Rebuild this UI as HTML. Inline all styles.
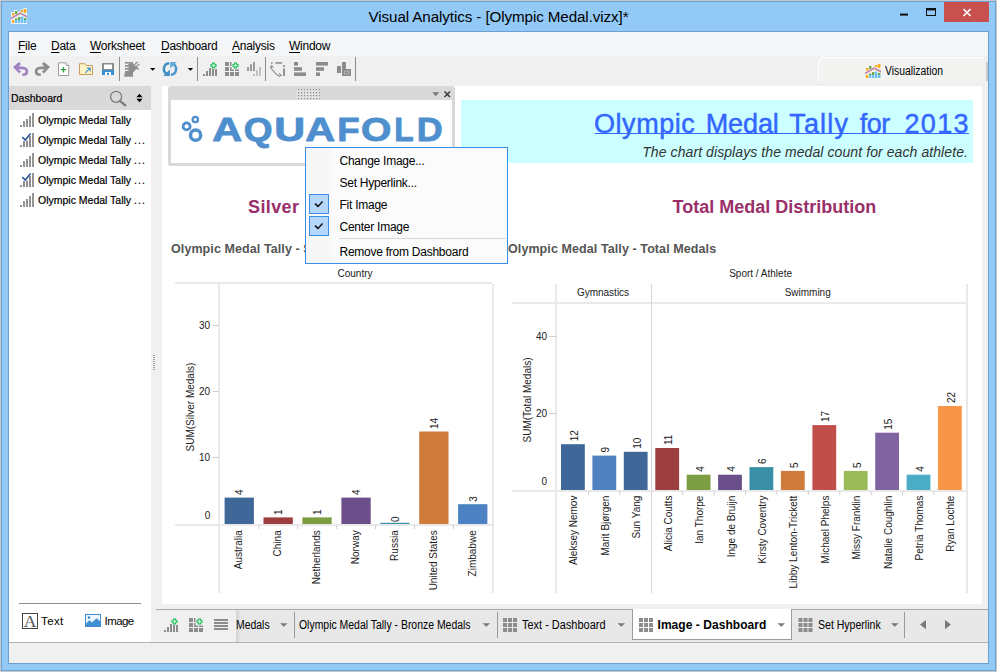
<!DOCTYPE html>
<html>
<head>
<meta charset="utf-8">
<title>Visual Analytics</title>
<style>
*{box-sizing:border-box;margin:0;padding:0}
html,body{width:997px;height:672px;overflow:hidden}
body{position:relative;background:#92c9f7;font-family:"Liberation Sans",sans-serif;font-size:12px;color:#000}
.abs{position:absolute}
#frame{left:0;top:0;width:997px;height:672px;border:1px solid #c6c9cc}
#frame2{left:1px;top:1px;width:995px;height:670px;border:1px solid #6c9fd2}
#cborder{left:8px;top:31px;width:981px;height:633px;background:#6c9fd2}
#title{left:0;top:8px;width:997px;text-align:center;font-size:15.2px;color:#000;letter-spacing:-0.1px}
#client{left:9px;top:32px;width:979px;height:631px;background:#f0f0f0}
#menubar{left:9px;top:32px;width:979px;height:24px;background:#f5f6f7}
.mi{top:39px;font-size:12px;line-height:14px;white-space:nowrap;letter-spacing:-0.25px}
.mi u{text-decoration:underline;text-underline-offset:1.5px}
#closebtn{left:944px;top:2px;width:45px;height:20px;background:#c8504f}
/* sidebar */
#sbhead{left:9px;top:86px;width:142px;height:24px;background:#d9d9d9}
.ui{font-size:11.6px;line-height:14px;white-space:nowrap;transform:scaleX(0.905);transform-origin:0 0;-webkit-text-stroke:0.22px #000}
#sblist{left:9px;top:110px;width:142px;height:532px;background:#fff}
.sbt{font-size:12px;left:38px;white-space:nowrap;line-height:14px;letter-spacing:-0.25px}
.sect{font-size:18px;font-weight:700;line-height:22px;color:#99306a;white-space:nowrap}
.sht{font-size:12.5px;font-weight:700;line-height:15px;color:#555;letter-spacing:0.09px;white-space:nowrap}
#main{left:162px;top:86px;width:820px;height:517.5px;background:#fff}
.cm{left:339.5px;font-size:12px;line-height:14px;letter-spacing:-0.25px;white-space:nowrap}
.tab{top:618.4px;font-size:12px;line-height:14px;white-space:nowrap;transform:scaleX(0.87);transform-origin:0 0}
</style>
</head>
<body>
<div class="abs" id="frame"></div>
<div class="abs" id="frame2"></div>
<div class="abs" id="cborder"></div>
<div class="abs" id="title">Visual Analytics - [Olympic Medal.vizx]*</div>
<div class="abs" id="closebtn"></div>
<div class="abs" id="client"></div>
<div class="abs" id="menubar"></div>
<div class="abs mi" style="left:18px"><u>F</u>ile</div>
<div class="abs mi" style="left:51px"><u>D</u>ata</div>
<div class="abs mi" style="left:90px"><u>W</u>orksheet</div>
<div class="abs mi" style="left:161px"><u>D</u>ashboard</div>
<div class="abs mi" style="left:232px"><u>A</u>nalysis</div>
<div class="abs mi" style="left:289px"><u>W</u>indow</div>

<div class="abs" id="sbhead"></div>
<div class="abs" id="sblist"></div>
<div class="abs" id="main"></div>

<!-- title bar icon + controls -->
<svg class="abs" style="left:0;top:0" width="997" height="31" viewBox="0 0 997 31">
 <path d="M11 12 H14 V10 H17.6 V11.6 H20.4 V9.4 H23.4 V8 H27 V24 H11 Z" fill="#fff" opacity="0.8"/>
 <rect x="12" y="13" width="2.4" height="2.4" fill="#fbaa19"/><rect x="12" y="20" width="2.4" height="3" fill="#fbaa19"/>
 <rect x="15" y="11" width="2.4" height="3" fill="#6aa84f"/><rect x="15" y="18.5" width="2.4" height="1.5" fill="#6aa84f"/><rect x="15" y="20" width="2.4" height="3" fill="#6ec1f7"/>
 <rect x="18" y="17" width="2.4" height="3" fill="#6aa84f"/><rect x="18" y="20" width="2.4" height="3" fill="#6ec1f7"/>
 <rect x="21" y="10" width="2.4" height="2" fill="#fbaa19"/><rect x="21" y="16.5" width="2.4" height="6.5" fill="#6ec1f7"/>
 <rect x="24" y="9" width="2.4" height="4" fill="#fbaa19"/><rect x="24" y="18" width="2.4" height="2" fill="#6aa84f"/><rect x="24" y="20" width="2.4" height="3" fill="#6ec1f7"/>
 <path d="M11 18.4 L20.3 13.2 L27 16.8" fill="none" stroke="#f4b09a" stroke-width="2.1"/>
 <path d="M11 18.4 L20.3 13.2 L27 16.8" fill="none" stroke="#9278c0" stroke-width="0.9"/>
 <rect x="900" y="13.6" width="8" height="2" fill="#111"/>
 <rect x="926.5" y="8.5" width="9" height="7" fill="none" stroke="#111" stroke-width="1"/><rect x="926" y="8" width="10" height="2.4" fill="#111"/>
 <path d="M963.5 9 L970.5 16 M970.5 9 L963.5 16" stroke="#fff" stroke-width="1.7" fill="none"/>
</svg>
<!-- toolbar -->
<svg class="abs" style="left:0;top:56px" width="997" height="30" viewBox="0 56 997 30">
 <g fill="#8c8c8c">
  <rect x="119" y="57" width="1" height="24"/><rect x="197" y="57" width="1" height="24"/><rect x="265" y="57" width="1" height="24"/><rect x="355" y="57" width="1" height="24"/>
 </g>
 <!-- undo -->
 <path d="M13 67 L19 62 L21 64 L18.5 66.5 L22 66.5 Q28.3 67 28.3 71.5 Q28.3 76 22.5 76 L22 73.6 Q25.6 73.6 25.6 71.3 Q25.6 69.2 22 69.2 L18.6 69.2 L21 71.6 L19.2 73.4 Z" fill="#a281c2"/>
 <!-- redo -->
 <path d="M50 67 L44 62 L42 64 L44.5 66.5 L41 66.5 Q34.7 67 34.7 71.5 Q34.7 76 40.5 76 L41 73.6 Q37.4 73.6 37.4 71.3 Q37.4 69.2 41 69.2 L44.4 69.2 L42 71.6 L43.8 73.4 Z" fill="#8c8c8c"/>
 <!-- new doc -->
 <path d="M58.5 62.8 H66 L68.7 65.5 V75.5 H58.5 Z" fill="#fff" stroke="#9a9a9a" stroke-width="1"/>
 <path d="M66 62.8 V65.5 H68.7" fill="#e4e4e4" stroke="#9a9a9a" stroke-width="0.8"/>
 <path d="M63.5 67 V72.4 M60.8 69.7 H66.2" stroke="#2f9e3e" stroke-width="1.3"/>
 <!-- folder -->
 <path d="M79.5 63.7 H85 L86.5 65.5 H92.5 V74.5 H79.5 Z" fill="#fdf3c4" stroke="#c79d5f" stroke-width="1"/>
 <path d="M85.3 72.8 L89.8 68.3 M86.8 68 H90.2 V71.4" stroke="#3a8fd0" stroke-width="1.1" fill="none"/>
 <!-- save -->
 <rect x="102" y="63" width="12" height="12" fill="#8c8c8c"/><rect x="104" y="64.5" width="8" height="4.5" fill="#fff"/>
 <rect x="102" y="70" width="12" height="5" fill="#3a8fd0"/><rect x="105" y="72" width="6" height="3" fill="#fff"/><rect x="107" y="72.8" width="2" height="2.2" fill="#3a8fd0"/>
 <!-- plug -->
 <path d="M125 62 H133 V63.6 L134.6 65.2 L138 67.4 L139.2 69.9 L136.4 69 L133 72.6 V76.8 H124 L125 72 Z" fill="#8e8e8e"/>
 <path d="M134.2 64.7 L137.7 62 M135.9 66.5 L139.8 63.9" stroke="#8e8e8e" stroke-width="1.1" fill="none"/>
 <path d="M124.8 64.3 H128.3 M124.8 67.3 H128.6 M124.8 70.4 H128.6" stroke="#f0f0f0" stroke-width="1.3"/>
 <path d="M126.5 62.8 V63.6 M128.5 62.8 V63.6 M130.5 62.8 V63.6" stroke="#f0f0f0" stroke-width="0.7"/>
 <path d="M150 68 H155.4 L152.7 70.8 Z" fill="#000"/>
 <!-- refresh -->
 <path d="M169.2 63.2 A5.8 5.8 0 0 0 166.8 74" stroke="#3f8fc6" stroke-width="2.5" fill="none"/>
 <path d="M163.2 75.9 H169.9 V69.4 Z" fill="#3f8fc6"/>
 <path d="M170.8 74.8 A5.8 5.8 0 0 0 173.2 64" stroke="#4a97cc" stroke-width="2.5" fill="none"/>
 <path d="M176.8 62.1 H170.2 V68.6 Z" fill="#62a8d8"/>
 <path d="M187.8 68 H193.2 L190.5 70.8 Z" fill="#000"/>
 <!-- bars + -->
 <g fill="#8c8c8c"><rect x="203" y="74" width="2" height="2"/><rect x="206" y="71" width="2" height="5"/><rect x="209" y="68" width="2" height="8"/><rect x="212" y="69" width="2" height="7"/><rect x="215" y="69" width="2" height="7"/></g>
 <path d="M213.5 62.5 V68.5 M210.5 65.5 H216.5" stroke="#18b650" stroke-width="3.2"/><path d="M213.5 63.5 V67.5 M211.5 65.5 H215.5" stroke="#bdf7cd" stroke-width="1.3"/>
 <!-- grid + -->
 <g fill="#8c8c8c"><rect x="225" y="62" width="4" height="4"/><rect x="230" y="62" width="4" height="4"/><rect x="225" y="67" width="4" height="4"/><rect x="230" y="67" width="4" height="4"/><rect x="235" y="67" width="4" height="4"/><rect x="225" y="72" width="4" height="4"/><rect x="230" y="72" width="4" height="4"/><rect x="235" y="72" width="4" height="4"/></g>
 <rect x="231.5" y="61.5" width="8" height="8" fill="#f0f0f0"/>
 <path d="M235.5 62.5 V68.5 M232.5 65.5 H238.5" stroke="#18b650" stroke-width="3.2"/><path d="M235.5 63.5 V67.5 M233.5 65.5 H237.5" stroke="#bdf7cd" stroke-width="1.3"/>
 <!-- light bars -->
 <g fill="#9a9a9a"><rect x="247" y="67" width="2" height="4"/><rect x="250" y="64.3" width="2" height="6.7"/><rect x="253" y="62" width="2" height="9"/></g>
 <g fill="#c2c2c2"><rect x="253" y="74" width="2" height="2"/><rect x="256" y="70" width="2" height="6"/><rect x="259" y="67" width="2" height="9"/></g>
 <!-- swap -->
 <g fill="#8c8c8c"><rect x="271" y="62.2" width="1.6" height="1.5"/><rect x="275.3" y="62.2" width="6.8" height="1.5"/><rect x="283.1" y="65.2" width="1.9" height="1.8"/><rect x="283.1" y="68.6" width="1.9" height="7.4"/></g>
 <path d="M271.7 66 V69.3 L277.3 75.2 H280.5" stroke="#8c8c8c" stroke-width="1.1" fill="none"/>
 <path d="M270 68 L271.7 65.3 L273.6 67.6" stroke="#8c8c8c" stroke-width="1" fill="none"/>
 <path d="M279 73 L281.6 75.4 L278.6 76.6" stroke="#8c8c8c" stroke-width="1" fill="none"/>
 <!-- sort asc / desc -->
 <g fill="#8c8c8c"><rect x="294" y="62" width="4" height="3.6"/><rect x="294" y="67.2" width="8" height="3.6"/><rect x="294" y="72.4" width="12" height="3.6"/>
 <rect x="316" y="62" width="12" height="3.6"/><rect x="316" y="67.2" width="8" height="3.6"/><rect x="316" y="72.4" width="4" height="3.6"/>
 <rect x="337" y="66" width="4" height="7"/><rect x="342" y="62" width="4" height="14"/><rect x="342" y="69" width="9" height="7"/></g>
 <rect x="344.6" y="71.2" width="4.3" height="2.7" fill="none" stroke="#bdbdbd" stroke-width="0.8"/>
</svg>

<!-- sidebar -->
<div class="abs ui" style="left:11px;top:91px">Dashboard</div>
<svg class="abs" style="left:0;top:86px" width="160" height="130" viewBox="0 86 160 130">
 <circle cx="116.1" cy="96.8" r="5.5" fill="none" stroke="#7a7a7a" stroke-width="1.3"/>
 <path d="M120 100.8 L125.3 105.3" stroke="#7a7a7a" stroke-width="2.2" stroke-linecap="round"/>
 <path d="M136.4 97.3 L139.5 93.8 L142.6 97.3 Z M136.4 98.8 L139.5 102.3 L142.6 98.8 Z" fill="#000"/>
 <g id="bi" fill="#949494"><rect x="20" y="125" width="2" height="2"/><rect x="23" y="121" width="2" height="6"/><rect x="26" y="119" width="2" height="8"/><rect x="29" y="116" width="2" height="11"/><rect x="32" y="113" width="2" height="14"/></g>
 <use href="#bi" y="20"/><use href="#bi" y="40"/><use href="#bi" y="60"/><use href="#bi" y="80"/>
 <rect x="19" y="132" width="9" height="8.6" fill="#fff"/><rect x="28" y="132" width="3" height="4" fill="#fff"/>
 <path d="M22.3 137.2 L25.3 140 L30.6 133.6" stroke="#2b579a" stroke-width="1.6" fill="none"/>
 <rect x="23" y="141.6" width="2" height="5.4" fill="#8c8c8c"/><rect x="26" y="141" width="2" height="6" fill="#8c8c8c"/><rect x="29" y="137.5" width="2" height="9.5" fill="#8c8c8c"/>
 <rect x="19" y="172" width="9" height="8.6" fill="#fff"/><rect x="28" y="172" width="3" height="4" fill="#fff"/>
 <path d="M22.3 177.2 L25.3 180 L30.6 173.6" stroke="#2b579a" stroke-width="1.6" fill="none"/>
 <rect x="23" y="181.6" width="2" height="5.4" fill="#8c8c8c"/><rect x="26" y="181" width="2" height="6" fill="#8c8c8c"/><rect x="29" y="177.5" width="2" height="9.5" fill="#8c8c8c"/>
</svg>
<div class="abs ui" style="left:38px;top:113px">Olympic Medal Tally</div>
<div class="abs ui" style="left:38px;top:133px">Olympic Medal Tally <span style="letter-spacing:1.2px">...</span></div>
<div class="abs ui" style="left:38px;top:153px">Olympic Medal Tally <span style="letter-spacing:1.2px">...</span></div>
<div class="abs ui" style="left:38px;top:173px">Olympic Medal Tally <span style="letter-spacing:1.2px">...</span></div>
<div class="abs ui" style="left:38px;top:193px">Olympic Medal Tally <span style="letter-spacing:1.2px">...</span></div>

<!-- image panel -->
<div class="abs" style="left:168px;top:86px;width:287px;height:80px;background:#d9d9d9;border-radius:3px 3px 2px 2px"></div>
<div class="abs" style="left:171px;top:100px;width:281px;height:63px;background:#fff"></div>
<svg class="abs" style="left:168px;top:86px" width="287" height="80" viewBox="168 86 287 80">
 <defs><pattern id="grip" x="297" y="88" width="3" height="3" patternUnits="userSpaceOnUse"><rect x="0" y="0" width="1" height="1" fill="#fdfdfd"/><rect x="1" y="1" width="1" height="1" fill="#8a8a8a"/></pattern></defs>
 <rect x="297" y="88" width="24" height="12" fill="url(#grip)"/><rect x="297" y="88" width="24" height="1" fill="#d9d9d9"/>
 <path d="M432.3 92.3 H439.3 L435.8 96.2 Z" fill="#7a7a7a"/>
 <path d="M444.5 91.5 L450 97 M450 91.5 L444.5 97" stroke="#3a3a3a" stroke-width="1.5"/>
 <g fill="none" stroke="#4f8fcd" stroke-width="2.6">
  <circle cx="186.6" cy="126.4" r="3.5" stroke-width="2.8"/><circle cx="195.3" cy="119.5" r="2.7" stroke-width="2.3"/><circle cx="195.6" cy="135.2" r="5.1" stroke-width="3.5"/>
 </g>
 <g font-family="Liberation Sans" font-weight="700" font-size="33.58" fill="#4f8fcd" stroke="#4f8fcd" stroke-width="0.9" stroke-linejoin="round"><text transform="translate(212.32 140.95) scale(1.230 1)">A</text><text transform="translate(243.83 140.95) scale(1.102 1)">Q</text><text transform="translate(274.18 140.95) scale(1.273 1)">U</text><text transform="translate(305.22 140.95) scale(1.230 1)">A</text><text transform="translate(337.20 140.95) scale(1.092 1)">F</text><text transform="translate(360.95 140.95) scale(1.162 1)">O</text><text transform="translate(394.13 140.95) scale(0.946 1)">L</text><text transform="translate(416.75 140.95) scale(1.068 1)">D</text></g>
</svg>
<!-- header text -->
<div class="abs" style="left:461px;top:100px;width:512px;height:63px;background:#ccffff"></div>
<div class="abs" id="bigtitle" style="left:0;top:108px;width:997px;height:32px;font-size:27px;line-height:32px;color:#3366ff;white-space:nowrap;-webkit-text-stroke:0.45px #3366ff">
<span class="abs bw" style="left:594px;letter-spacing:0.56px">Olympic</span><span class="abs bw" style="left:705.7px;letter-spacing:-0.1px">Medal</span><span class="abs bw" style="left:789.2px;letter-spacing:1.2px">Tally</span><span class="abs bw" style="left:859.8px;letter-spacing:-0.5px">for</span><span class="abs bw" style="left:904.5px;letter-spacing:1.35px">2013</span></div>
<div class="abs" style="left:595px;top:132.8px;width:373.6px;height:1.7px;background:#3366ff"></div>
<div class="abs" id="subtitle" style="right:29px;top:144px;font-size:14px;line-height:16px;font-style:italic;color:#333;letter-spacing:0.084px;white-space:nowrap">The chart displays the medal count for each athlete.</div>
<div class="abs sect" id="sect1" style="left:248px;top:196px;letter-spacing:0.4px">Silver</div>
<div class="abs sect" id="sect2" style="left:672.5px;top:196px">Total Medal Distribution</div>
<div class="abs sht" id="sht1" style="left:171px;top:242px">Olympic Medal Tally - Silver Medals</div>
<div class="abs sht" id="sht2" style="left:508px;top:242px">Olympic Medal Tally - Total Medals</div>
<!--CHARTS-->
<svg class="abs" id="charts" style="left:162px;top:262px" width="820" height="340" viewBox="162 262 820 340" font-family="Liberation Sans" font-size="10" fill="#222">
<g stroke="#e9e9e9" stroke-width="2" fill="none">
<path d="M175 283 H492 M175 525 H494 M219 284 V593 M493 284 V593"/>
</g>
<g stroke="#cfcfcf" stroke-width="1" fill="none">
<path d="M212.5 325.5 H219 M212.5 391.5 H219 M212.5 457.5 H219"/>
<path d="M258.8 525 V529 M297.7 525 V529 M336.7 525 V529 M375.6 525 V529 M414.5 525 V529 M453.4 525 V529"/>
</g>
<text x="355" y="277" text-anchor="middle">Country</text>
<text x="210.2" y="329.1" text-anchor="end">30</text>
<text x="210.2" y="395.1" text-anchor="end">20</text>
<text x="210.2" y="461.1" text-anchor="end">10</text>
<text x="210.2" y="519" text-anchor="end">0</text>
<text transform="translate(194.2 407) rotate(-90)" text-anchor="middle">SUM(Silver Medals)</text>
<rect x="224.6" y="497.6" width="29.3" height="26.4" fill="#3f6899"/>
<text transform="translate(243.2 495.1) rotate(-90)">4</text>
<text transform="translate(242.2 530.3) rotate(-90)" text-anchor="end">Australia</text>
<rect x="263.5" y="517.4" width="29.3" height="6.6" fill="#9c3e3e"/>
<text transform="translate(282.2 514.9) rotate(-90)">1</text>
<text transform="translate(281.2 530.3) rotate(-90)" text-anchor="end">China</text>
<rect x="302.4" y="517.4" width="29.3" height="6.6" fill="#7d9d42"/>
<text transform="translate(321.1 514.9) rotate(-90)">1</text>
<text transform="translate(320.1 530.3) rotate(-90)" text-anchor="end">Netherlands</text>
<rect x="341.4" y="497.6" width="29.3" height="26.4" fill="#6b4f8a"/>
<text transform="translate(360.0 495.1) rotate(-90)">4</text>
<text transform="translate(359.0 530.3) rotate(-90)" text-anchor="end">Norway</text>
<rect x="380.3" y="522.8" width="29.3" height="1.2" fill="#3a8ea6"/>
<text transform="translate(398.9 522.1) rotate(-90)">0</text>
<text transform="translate(397.9 530.3) rotate(-90)" text-anchor="end">Russia</text>
<rect x="419.2" y="431.5" width="29.3" height="92.5" fill="#cf7b3b"/>
<text transform="translate(437.9 429.0) rotate(-90)">14</text>
<text transform="translate(436.9 530.3) rotate(-90)" text-anchor="end">United States</text>
<rect x="458.1" y="504.2" width="29.3" height="19.8" fill="#4c82c3"/>
<text transform="translate(476.8 501.7) rotate(-90)">3</text>
<text transform="translate(475.8 530.3) rotate(-90)" text-anchor="end">Zimbabwe</text>
<g stroke="#e9e9e9" stroke-width="2" fill="none">
<path d="M512 303 H966 M512 491 H968 M556 284 V593 M967 284 V593"/>
</g><g stroke="#d6d6d6" stroke-width="1" fill="none"><path d="M651.5 284 V593"/>
</g>
<g stroke="#cfcfcf" stroke-width="1" fill="none">
<path d="M549 336.5 H556 M549 413.5 H556"/>
<path d="M588.4 491.5 V495 M619.8 491.5 V495 M682.7 491.5 V495 M714.1 491.5 V495 M745.5 491.5 V495 M776.9 491.5 V495 M808.4 491.5 V495 M839.8 491.5 V495 M871.2 491.5 V495 M902.6 491.5 V495 M934.0 491.5 V495"/>
</g>
<text x="760.6" y="277" text-anchor="middle">Sport / Athlete</text>
<text x="603" y="296" text-anchor="middle">Gymnastics</text>
<text x="807.7" y="296" text-anchor="middle">Swimming</text>
<text x="547" y="340.2" text-anchor="end">40</text>
<text x="547" y="417" text-anchor="end">20</text>
<text x="547" y="485.4" text-anchor="end">0</text>
<text transform="translate(531.2 400) rotate(-90)" text-anchor="middle">SUM(Total Medals)</text>
<rect x="561.0" y="444.2" width="23.8" height="45.8" fill="#3f6899"/>
<text transform="translate(577.9 441.2) rotate(-90)">12</text>
<text transform="translate(577.4 495.6) rotate(-90)" text-anchor="end">Aleksey Nemov</text>
<rect x="592.4" y="455.6" width="23.8" height="34.4" fill="#4e81bd"/>
<text transform="translate(609.3 452.6) rotate(-90)">9</text>
<text transform="translate(608.8 495.6) rotate(-90)" text-anchor="end">Marit Bjørgen</text>
<rect x="623.8" y="451.8" width="23.8" height="38.2" fill="#3f6899"/>
<text transform="translate(640.7 448.8) rotate(-90)">10</text>
<text transform="translate(640.2 495.6) rotate(-90)" text-anchor="end">Sun Yang</text>
<rect x="655.3" y="448.0" width="23.8" height="42.0" fill="#9c3e3e"/>
<text transform="translate(672.2 445.0) rotate(-90)">11</text>
<text transform="translate(671.7 495.6) rotate(-90)" text-anchor="end">Alicia Coutts</text>
<rect x="686.7" y="474.7" width="23.8" height="15.3" fill="#7d9d42"/>
<text transform="translate(703.6 471.7) rotate(-90)">4</text>
<text transform="translate(703.1 495.6) rotate(-90)" text-anchor="end">Ian Thorpe</text>
<rect x="718.1" y="474.7" width="23.8" height="15.3" fill="#6b4f8a"/>
<text transform="translate(735.0 471.7) rotate(-90)">4</text>
<text transform="translate(734.5 495.6) rotate(-90)" text-anchor="end">Inge de Bruijn</text>
<rect x="749.5" y="467.1" width="23.8" height="22.9" fill="#3a8ea6"/>
<text transform="translate(766.4 464.1) rotate(-90)">6</text>
<text transform="translate(765.9 495.6) rotate(-90)" text-anchor="end">Kirsty Coventry</text>
<rect x="780.9" y="470.9" width="23.8" height="19.1" fill="#cf7b3b"/>
<text transform="translate(797.8 467.9) rotate(-90)">5</text>
<text transform="translate(797.3 495.6) rotate(-90)" text-anchor="end">Libby Lenton-Trickett</text>
<rect x="812.4" y="425.1" width="23.8" height="64.9" fill="#c24e4c"/>
<text transform="translate(829.3 422.1) rotate(-90)">17</text>
<text transform="translate(828.8 495.6) rotate(-90)" text-anchor="end">Michael Phelps</text>
<rect x="843.8" y="470.9" width="23.8" height="19.1" fill="#9bbb59"/>
<text transform="translate(860.7 467.9) rotate(-90)">5</text>
<text transform="translate(860.2 495.6) rotate(-90)" text-anchor="end">Missy Franklin</text>
<rect x="875.2" y="432.7" width="23.8" height="57.3" fill="#8064a2"/>
<text transform="translate(892.1 429.7) rotate(-90)">15</text>
<text transform="translate(891.6 495.6) rotate(-90)" text-anchor="end">Natalie Coughlin</text>
<rect x="906.6" y="474.7" width="23.8" height="15.3" fill="#4aacc5"/>
<text transform="translate(923.5 471.7) rotate(-90)">4</text>
<text transform="translate(923.0 495.6) rotate(-90)" text-anchor="end">Petria Thomas</text>
<rect x="938.0" y="406.0" width="23.8" height="84.0" fill="#f79646"/>
<text transform="translate(954.9 403.0) rotate(-90)">22</text>
<text transform="translate(954.4 495.6) rotate(-90)" text-anchor="end">Ryan Lochte</text>
</svg>
<!--/CHARTS-->

<!-- context menu -->
<div class="abs" style="left:305px;top:147px;width:203px;height:117px;background:#fbfbfb;border:1px solid #3a8ee6"></div>
<div class="abs" style="left:306px;top:148px;width:26px;height:115px;background:#f7f7f7"></div>
<div class="abs" style="left:309px;top:194px;width:20px;height:20px;background:#b4d7fb;border:1px solid #3a8ee6"></div>
<div class="abs" style="left:309px;top:216px;width:20px;height:20px;background:#b4d7fb;border:1px solid #3a8ee6"></div>
<svg class="abs" style="left:305px;top:147px" width="203" height="117" viewBox="305 147 203 117">
 <path d="M315 203.6 L318 206.4 L322.6 201.6" stroke="#111" stroke-width="1.5" fill="none"/>
 <path d="M315 225.6 L318 228.4 L322.6 223.6" stroke="#111" stroke-width="1.5" fill="none"/>
 <rect x="339" y="238" width="167" height="1" fill="#d7d7d7"/>
</svg>
<div class="abs cm" style="top:154px">Change Image...</div>
<div class="abs cm" style="top:176px">Set Hyperlink...</div>
<div class="abs cm" style="top:198px">Fit Image</div>
<div class="abs cm" style="top:220px">Center Image</div>
<div class="abs cm" style="top:244.5px">Remove from Dashboard</div>

<!-- visualization tab -->
<div class="abs" style="left:818px;top:57px;width:166px;height:24px;background:#f3f3f2;border-top:1px solid #fff;border-left:1px solid #fff;border-radius:6px 0 0 0"></div>
<div class="abs" style="left:986px;top:62px;width:1.6px;height:19px;background:#cacaca"></div>
<svg class="abs" style="left:865px;top:63px" width="16" height="16" viewBox="11 8 16 16">
 <rect x="12" y="13" width="2.4" height="2.4" fill="#fbaa19"/><rect x="12" y="20" width="2.4" height="3" fill="#fbaa19"/>
 <rect x="15" y="11" width="2.4" height="3" fill="#6aa84f"/><rect x="15" y="18.5" width="2.4" height="1.5" fill="#6aa84f"/><rect x="15" y="20" width="2.4" height="3" fill="#6ec1f7"/>
 <rect x="18" y="17" width="2.4" height="3" fill="#6aa84f"/><rect x="18" y="20" width="2.4" height="3" fill="#6ec1f7"/>
 <rect x="21" y="10" width="2.4" height="2" fill="#fbaa19"/><rect x="21" y="16.5" width="2.4" height="6.5" fill="#6ec1f7"/>
 <rect x="24" y="9" width="2.4" height="4" fill="#fbaa19"/><rect x="24" y="18" width="2.4" height="2" fill="#6aa84f"/><rect x="24" y="20" width="2.4" height="3" fill="#6ec1f7"/>
 <path d="M11 18.4 L20.3 13.2 L27 16.8" fill="none" stroke="#f4b09a" stroke-width="2.1"/>
 <path d="M11 18.4 L20.3 13.2 L27 16.8" fill="none" stroke="#9278c0" stroke-width="0.9"/>
</svg>
<div class="abs" id="viz" style="left:885px;top:64px;font-size:12px;line-height:14px;white-space:nowrap;transform:scaleX(0.864);transform-origin:0 0">Visualization</div>

<!-- sidebar bottom -->
<div class="abs" style="left:19px;top:603px;width:122px;height:1px;background:#8f8f8f"></div>
<div class="abs" style="left:22px;top:613px;width:16px;height:16px;border:1.3px solid #444;background:#fff"></div>
<div class="abs" style="left:22px;top:613px;width:16px;height:16px;line-height:16.5px;text-align:center;font-family:'Liberation Serif',serif;font-size:17.5px;color:#555">A</div>
<div class="abs" id="tText" style="left:41px;top:615px;font-size:11.5px;line-height:13px;letter-spacing:0.4px">Text</div>
<svg class="abs" style="left:85px;top:614px" width="16" height="13" viewBox="0 0 16 13">
 <rect x="0.5" y="0.5" width="15" height="12" fill="#eef5fc" stroke="#3f8fd2"/>
 <path d="M1 12 V9.5 L4.5 6.3 L7 8.5 L11.5 4.3 L15 7.2 V12 Z" fill="#3f8fd2"/>
 <circle cx="4" cy="3.6" r="1.3" fill="#3f8fd2"/>
</svg>
<div class="abs" id="tImage" style="left:104.5px;top:615px;font-size:11.5px;line-height:13px;letter-spacing:-0.55px">Image</div>

<!-- bottom tab bar -->
<div class="abs" style="left:236px;top:609px;width:752px;height:33px;background:#e8e8e8"></div>
<div class="abs" style="left:236px;top:609px;width:5px;height:33px;background:linear-gradient(90deg,#d2d2d2,#e8e8e8)"></div>
<div class="abs" style="left:156px;top:609px;width:832px;height:1px;background:#a9a9a9"></div>
<div class="abs" style="left:9px;top:642px;width:979px;height:1px;background:#b3b3b3"></div>
<div class="abs" style="left:632px;top:609px;width:160px;height:31px;background:#fff;border:1px solid #9d9d9d;border-top:none"></div>
<svg class="abs" style="left:156px;top:610px" width="832" height="32" viewBox="156 610 832 32">
 <g fill="#8c8c8c"><rect x="164" y="630" width="2" height="2"/><rect x="167" y="627" width="2" height="5"/><rect x="170" y="624" width="2" height="8"/><rect x="173" y="625" width="2" height="7"/><rect x="176" y="625" width="2" height="7"/></g>
 <path d="M174.500 618.5 V624.5 M171.500 621.5 H177.500" stroke="#18b650" stroke-width="3.2"/><path d="M174.500 619.5 V623.5 M172.500 621.5 H176.500" stroke="#bdf7cd" stroke-width="1.3"/>
 <g fill="#8c8c8c"><rect x="189" y="618" width="4" height="4"/><rect x="194" y="618" width="4" height="4"/><rect x="189" y="623" width="4" height="4"/><rect x="194" y="623" width="4" height="4"/><rect x="199" y="623" width="4" height="4"/><rect x="189" y="628" width="4" height="4"/><rect x="194" y="628" width="4" height="4"/><rect x="199" y="628" width="4" height="4"/></g>
 <rect x="195.500" y="617.5" width="8" height="8" fill="#f0f0f0"/>
 <path d="M199.500 618.5 V624.5 M196.500 621.5 H202.500" stroke="#18b650" stroke-width="3.2"/><path d="M199.500 619.5 V623.5 M197.500 621.500 H201.500" stroke="#bdf7cd" stroke-width="1.3"/>
 <g fill="#8c8c8c"><rect x="214" y="619" width="14" height="2"/><rect x="214" y="622" width="14" height="2"/><rect x="214" y="625" width="14" height="2"/><rect x="214" y="628" width="14" height="2"/></g>
 <g fill="#9a9a9a"><rect x="294" y="612" width="1" height="26"/><rect x="497" y="612" width="1" height="26"/><rect x="904" y="612" width="1" height="26"/></g>
 <g fill="#7a7a7a">
  <path d="M280 623.2 H287.600 L283.800 626.8 Z"/><path d="M482.5 623.2 H490.100 L486.300 626.8 Z"/><path d="M617.500 623.2 H625.100 L621.300 626.8 Z"/><path d="M777.500 623.2 H785.100 L781.300 626.8 Z"/><path d="M891 623.2 H898.600 L894.800 626.8 Z"/>
  <path d="M926 620 V629.200 L920 624.600 Z"/><path d="M945 620 V629.200 L951 624.600 Z"/>
 </g>
 <g id="gi" fill="#8c8c8c"><rect x="503" y="618" width="4" height="4"/><rect x="508" y="618" width="4" height="4"/><rect x="513" y="618" width="4" height="4"/><rect x="503" y="623" width="4" height="4"/><rect x="508" y="623" width="4" height="4"/><rect x="513" y="623" width="4" height="4"/><rect x="503" y="628" width="4" height="4"/><rect x="508" y="628" width="4" height="4"/><rect x="513" y="628" width="4" height="4"/></g>
 <use href="#gi" x="136"/><use href="#gi" x="295.500"/>
</svg>
<div class="abs tab" style="left:236px">Medals</div>
<div class="abs tab" style="left:298.500px">Olympic Medal Tally - Bronze Medals</div>
<div class="abs tab" style="left:521.500px;transform:scaleX(0.914)">Text - Dashboard</div>
<div class="abs" id="atab" style="left:657.500px;top:618.4px;font-size:12px;line-height:14px;font-weight:700;white-space:nowrap;letter-spacing:0.05px">Image - Dashboard</div>
<div class="abs tab" style="left:817.500px;transform:scaleX(0.878)">Set Hyperlink</div>
<svg class="abs" style="left:151px;top:354px" width="8" height="18" viewBox="151 354 8 18"><g fill="#a3a3a3"><rect x="153" y="355" width="2" height="1"/><rect x="153" y="357" width="2" height="1"/><rect x="153" y="359" width="2" height="1"/><rect x="153" y="361" width="2" height="1"/><rect x="153" y="363" width="2" height="1"/><rect x="153" y="365" width="2" height="1"/><rect x="153" y="367" width="2" height="1"/><rect x="153" y="369" width="2" height="1"/></g></svg>
<!--SECTIONS-->
</body>
</html>
